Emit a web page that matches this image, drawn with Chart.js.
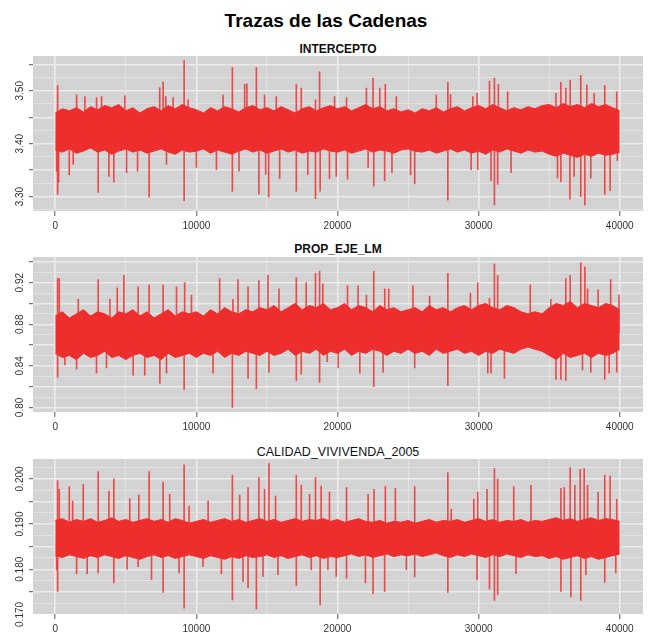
<!DOCTYPE html>
<html lang="es">
<head>
<meta charset="utf-8">
<title>Trazas de las Cadenas</title>
<script src="https://cdn.jsdelivr.net/npm/chart.js@4.4.1/dist/chart.umd.min.js"></script>
<style>
  body { margin: 0; background: #fff; font-family: "Liberation Sans", Arial, sans-serif; }
  #pagina { position: relative; width: 649px; height: 634px; overflow: hidden; }
  .titulo { position: absolute; left: 1px; width: 650px; text-align: center; color: #000;
            font-weight: bold; font-size: 19px; line-height: 19px; top: 11px; }
  .subtitulo { position: absolute; left: 33px; width: 610px; text-align: center; color: #111;
               font-size: 12px; line-height: 12px; font-weight: bold; }
  canvas { position: absolute; left: 0; }
</style>
</head>
<body>
<div id="pagina">
  <div class="titulo">Trazas de las Cadenas</div>
  <div class="subtitulo" style="top:43px">INTERCEPTO</div>
  <div class="subtitulo" style="top:243px">PROP_EJE_LM</div>
  <div class="subtitulo" style="top:446px;font-weight:normal;font-size:12.5px;line-height:12.5px">CALIDAD_VIVIVENDA_2005</div>
  <canvas id="traza1" width="649" height="181" style="top:52px"></canvas>
  <canvas id="traza2" width="649" height="181" style="top:253px"></canvas>
  <canvas id="traza3" width="649" height="181" style="top:455px"></canvas>
</div>
<script>
// Cada cadena tiene 40000 iteraciones; la envolvente se lee cada 500 iteraciones
const pasoEnvolvente = 500;
const etiquetasX = ['0', '10000', '20000', '30000', '40000'];

// --- INTERCEPTO ---
const interceptoAlto = [
  3.458, 3.466, 3.462, 3.468, 3.460, 3.470, 3.464, 3.472, 3.468, 3.474,
  3.462, 3.468, 3.458, 3.466, 3.470, 3.462, 3.472, 3.466, 3.474, 3.468,
  3.464, 3.458, 3.468, 3.462, 3.470, 3.466, 3.460, 3.468, 3.472, 3.464,
  3.468, 3.462, 3.470, 3.464, 3.458, 3.466, 3.470, 3.462, 3.468, 3.472,
  3.466, 3.470, 3.462, 3.468, 3.474, 3.466, 3.470, 3.462, 3.466, 3.460,
  3.464, 3.458, 3.466, 3.462, 3.468, 3.460, 3.466, 3.470, 3.462, 3.468,
  3.472, 3.466, 3.474, 3.468, 3.462, 3.468, 3.464, 3.470, 3.466, 3.472,
  3.474, 3.468, 3.476, 3.470, 3.474, 3.468, 3.476, 3.470, 3.474, 3.468,
  3.462
];
const interceptoBajo = [
  3.388, 3.384, 3.390, 3.382, 3.386, 3.392, 3.384, 3.388, 3.380, 3.386,
  3.390, 3.384, 3.388, 3.382, 3.386, 3.390, 3.384, 3.380, 3.388, 3.384,
  3.386, 3.390, 3.382, 3.388, 3.384, 3.380, 3.386, 3.390, 3.384, 3.388,
  3.382, 3.386, 3.390, 3.384, 3.388, 3.382, 3.386, 3.384, 3.390, 3.386,
  3.384, 3.388, 3.382, 3.386, 3.390, 3.384, 3.388, 3.386, 3.382, 3.388,
  3.390, 3.386, 3.384, 3.388, 3.382, 3.386, 3.390, 3.384, 3.388, 3.382,
  3.386, 3.380, 3.388, 3.384, 3.390, 3.386, 3.382, 3.388, 3.384, 3.386,
  3.380, 3.376, 3.382, 3.378, 3.374, 3.380, 3.376, 3.382, 3.378, 3.380,
  3.384
];
const interceptoPicosIter = [
  165, 1510, 2100, 2925, 3280, 4930, 7400, 7640, 7830, 8350, 9130, 9410, 11890, 12550, 13420, 13580, 14250, 14830, 15660, 17080, 17430, 18440, 18730, 19790,
  20640, 22050, 22520, 23000, 23390, 24170, 27000, 27820, 28010, 29590, 29890, 30770, 31120, 31400, 32060, 35480, 35830, 36180, 36490, 37240, 37670, 38190, 38940, 39790,
  95, 165, 235, 990, 1270, 3040, 3800, 4150, 5050, 5830, 6650, 7880, 9130, 10000, 11420, 12550, 13020, 14430, 14910, 15120, 15900, 17080, 17900, 18440, 18770, 19430, 19910,
  20710, 22170, 22570, 23340, 23860, 25180, 25470, 27820, 29470, 29940, 30880, 31120, 31350, 32300, 35590, 35830, 36470, 36770, 37240, 37530, 37950, 38940, 39320, 39830
];
const interceptoPicosValor = [
  3.510, 3.492, 3.489, 3.487, 3.489, 3.491, 3.506, 3.517, 3.489, 3.487, 3.557, 3.483, 3.492, 3.544, 3.512, 3.513, 3.544, 3.492, 3.489, 3.512, 3.505, 3.483, 3.536, 3.489,
  3.487, 3.505, 3.524, 3.505, 3.512, 3.489, 3.492, 3.516, 3.493, 3.489, 3.495, 3.518, 3.524, 3.512, 3.498, 3.495, 3.516, 3.505, 3.520, 3.529, 3.511, 3.495, 3.510, 3.498,
  3.348, 3.304, 3.327, 3.341, 3.361, 3.308, 3.338, 3.327, 3.345, 3.348, 3.299, 3.361, 3.292, 3.355, 3.351, 3.310, 3.348, 3.305, 3.342, 3.299, 3.334, 3.310, 3.342, 3.296, 3.310, 3.334, 3.338,
  3.333, 3.355, 3.320, 3.330, 3.345, 3.341, 3.324, 3.293, 3.351, 3.351, 3.330, 3.284, 3.323, 3.345, 3.335, 3.328, 3.295, 3.338, 3.300, 3.284, 3.335, 3.304, 3.311, 3.368
];
const interceptoEtiquetasY = ['3.30', '3.40', '3.50'];

// --- PROP_EJE_LM ---
const propAlto = [
  0.888, 0.892, 0.886, 0.890, 0.894, 0.888, 0.892, 0.890, 0.886, 0.892,
  0.890, 0.894, 0.888, 0.892, 0.886, 0.890, 0.894, 0.888, 0.892, 0.890,
  0.892, 0.888, 0.894, 0.890, 0.896, 0.892, 0.890, 0.894, 0.892, 0.896,
  0.894, 0.898, 0.892, 0.896, 0.900, 0.894, 0.898, 0.896, 0.900, 0.894,
  0.896, 0.900, 0.894, 0.898, 0.896, 0.892, 0.898, 0.894, 0.896, 0.892,
  0.894, 0.896, 0.892, 0.898, 0.894, 0.896, 0.892, 0.896, 0.898, 0.894,
  0.898, 0.900, 0.896, 0.894, 0.898, 0.896, 0.892, 0.890, 0.892, 0.890,
  0.896, 0.900, 0.898, 0.902, 0.896, 0.900, 0.898, 0.896, 0.900, 0.898,
  0.894
];
const propBajo = [
  0.852, 0.848, 0.850, 0.846, 0.852, 0.848, 0.850, 0.854, 0.848, 0.850,
  0.846, 0.850, 0.852, 0.848, 0.850, 0.846, 0.852, 0.848, 0.850, 0.852,
  0.848, 0.852, 0.850, 0.854, 0.848, 0.852, 0.850, 0.854, 0.852, 0.850,
  0.854, 0.850, 0.852, 0.856, 0.850, 0.854, 0.852, 0.856, 0.850, 0.854,
  0.852, 0.856, 0.850, 0.854, 0.852, 0.856, 0.854, 0.850, 0.854, 0.852,
  0.856, 0.852, 0.854, 0.850, 0.856, 0.852, 0.854, 0.856, 0.852, 0.854,
  0.850, 0.854, 0.852, 0.856, 0.854, 0.852, 0.856, 0.858, 0.856, 0.854,
  0.850, 0.846, 0.852, 0.848, 0.850, 0.852, 0.848, 0.852, 0.850, 0.852,
  0.856
];
const propPicosIter = [
  165, 280, 1630, 3040, 3870, 4390, 4860, 5870, 6650, 7640, 8590, 9170, 9650, 11650, 12590, 12950, 13660, 14430, 15070, 15850, 17080, 17780, 18440, 18730, 18960,
  20710, 21460, 22050, 22570, 23350, 23630, 25350, 26530, 27820, 29420, 29940, 30770, 31120, 31350, 33660, 35120, 36180, 36490, 37240, 37530, 37720, 38470, 39360, 39950,
  165, 680, 1510, 2920, 3630, 5520, 6340, 7410, 7880, 9130, 11180, 12550, 13660, 14250, 15140, 17080, 17430, 18730, 19270,
  20050, 21580, 22570, 23230, 25470, 27820, 30650, 30880, 31830, 35480, 35830, 36180, 37360, 37950, 38940, 39250, 39790
];
const propPicosValor = [
  0.924, 0.924, 0.904, 0.923, 0.904, 0.915, 0.927, 0.916, 0.918, 0.918, 0.916, 0.920, 0.908, 0.924, 0.904, 0.923, 0.916, 0.922, 0.927, 0.914, 0.925, 0.920, 0.929, 0.931, 0.919,
  0.917, 0.917, 0.908, 0.931, 0.914, 0.914, 0.917, 0.907, 0.929, 0.910, 0.920, 0.905, 0.938, 0.927, 0.918, 0.904, 0.924, 0.927, 0.939, 0.935, 0.914, 0.913, 0.923, 0.908,
  0.829, 0.841, 0.837, 0.833, 0.838, 0.831, 0.831, 0.823, 0.833, 0.817, 0.833, 0.800, 0.828, 0.818, 0.834, 0.826, 0.832, 0.824, 0.844,
  0.838, 0.833, 0.820, 0.834, 0.838, 0.821, 0.833, 0.833, 0.828, 0.827, 0.827, 0.826, 0.836, 0.834, 0.827, 0.833, 0.834
];
const propEtiquetasY = ['0.80', '0.84', '0.88', '0.92'];

// --- CALIDAD_VIVIVENDA_2005 ---
const calidadAlto = [
  0.1908, 0.1912, 0.1904, 0.1910, 0.1906, 0.1912, 0.1904, 0.1908, 0.1914, 0.1906,
  0.1910, 0.1904, 0.1908, 0.1912, 0.1906, 0.1910, 0.1904, 0.1912, 0.1908, 0.1902,
  0.1906, 0.1910, 0.1904, 0.1908, 0.1912, 0.1906, 0.1910, 0.1904, 0.1908, 0.1912,
  0.1906, 0.1910, 0.1904, 0.1908, 0.1912, 0.1906, 0.1910, 0.1908, 0.1912, 0.1906,
  0.1910, 0.1904, 0.1908, 0.1912, 0.1906, 0.1904, 0.1908, 0.1902, 0.1906, 0.1904,
  0.1908, 0.1902, 0.1906, 0.1910, 0.1904, 0.1908, 0.1906, 0.1910, 0.1904, 0.1908,
  0.1912, 0.1906, 0.1910, 0.1904, 0.1908, 0.1906, 0.1910, 0.1904, 0.1908, 0.1906,
  0.1910, 0.1914, 0.1908, 0.1912, 0.1906, 0.1910, 0.1914, 0.1908, 0.1912, 0.1910,
  0.1906
];
const calidadBajo = [
  0.1830, 0.1826, 0.1832, 0.1828, 0.1824, 0.1830, 0.1826, 0.1832, 0.1828, 0.1824,
  0.1830, 0.1826, 0.1822, 0.1828, 0.1832, 0.1826, 0.1830, 0.1824, 0.1828, 0.1832,
  0.1828, 0.1824, 0.1830, 0.1826, 0.1822, 0.1828, 0.1824, 0.1830, 0.1826, 0.1828,
  0.1832, 0.1826, 0.1830, 0.1824, 0.1828, 0.1832, 0.1826, 0.1830, 0.1824, 0.1828,
  0.1826, 0.1830, 0.1834, 0.1828, 0.1832, 0.1826, 0.1830, 0.1834, 0.1828, 0.1832,
  0.1830, 0.1834, 0.1828, 0.1832, 0.1836, 0.1830, 0.1826, 0.1832, 0.1828, 0.1834,
  0.1830, 0.1826, 0.1832, 0.1828, 0.1834, 0.1830, 0.1826, 0.1832, 0.1828, 0.1830,
  0.1824, 0.1828, 0.1822, 0.1826, 0.1830, 0.1824, 0.1828, 0.1822, 0.1826, 0.1830,
  0.1834
];
const calidadPicosIter = [
  165, 280, 990, 1230, 1980, 3040, 3800, 4150, 5280, 5920, 6650, 7640, 8110, 9130, 9480, 10830, 12550, 13070, 13660, 14430, 14830, 15140, 15610, 17080, 17430, 18020, 18440, 18840, 19430,
  20640, 22170, 22590, 23390, 24100, 25470, 27820, 28060, 29660, 29940, 30600, 31120, 31350, 32490, 33710, 35830, 36070, 36490, 36820, 37200, 37480, 37720, 38470, 38940, 39320, 39790,
  95, 165, 1510, 2260, 3040, 4150, 5090, 5870, 6820, 7640, 8770, 9130, 10470, 11770, 12550, 13300, 13660, 14250, 14720, 15780, 17080, 18140, 18770, 19320, 19910,
  20640, 21980, 22520, 23340, 24880, 25470, 27820, 29890, 30770, 31120, 31350, 32650, 35830, 36540, 37240, 37600, 38940, 39720
];
const calidadPicosValor = [
  0.1996, 0.1977, 0.1983, 0.1951, 0.1988, 0.2016, 0.1973, 0.2000, 0.1956, 0.1964, 0.2016, 0.1993, 0.1966, 0.2031, 0.1940, 0.1951, 0.2008, 0.1964, 0.1981, 0.2003, 0.1977, 0.2034, 0.1962, 0.2008, 0.1986, 0.1966, 0.2003, 0.1984, 0.1971,
  0.1981, 0.1966, 0.1977, 0.1983, 0.1979, 0.1983, 0.2014, 0.1933, 0.1955, 0.1971, 0.1977, 0.2023, 0.2000, 0.1983, 0.1986, 0.1979, 0.1981, 0.2025, 0.1986, 0.2021, 0.2023, 0.1986, 0.1971, 0.2008, 0.2006, 0.1955,
  0.1799, 0.1751, 0.1790, 0.1790, 0.1792, 0.1770, 0.1800, 0.1806, 0.1777, 0.1749, 0.1792, 0.1714, 0.1806, 0.1790, 0.1732, 0.1773, 0.1759, 0.1712, 0.1784, 0.1788, 0.1764, 0.1799, 0.1721, 0.1799, 0.1784,
  0.1780, 0.1770, 0.1746, 0.1751, 0.1799, 0.1783, 0.1749, 0.1777, 0.1756, 0.1731, 0.1744, 0.1790, 0.1751, 0.1739, 0.1731, 0.1788, 0.1771, 0.1792
];
const calidadEtiquetasY = ['0.170', '0.180', '0.190', '0.200'];

const ROJO = '#ee2d2d';
const ROJO_PICO = 'rgba(238, 45, 45, 0.82)';
const FONDO = '#d3d3d3';

Chart.defaults.font.family = '"Liberation Sans", Arial, sans-serif';

function esMultiplo(v, paso) {
    const r = v / paso;
    return Math.abs(r - Math.round(r)) < 1e-6;
}

// pinta el fondo gris del panel
const fondoPanel = {
    id: 'fondoPanel',
    beforeDraw(chart) {
        const a = chart.chartArea;
        chart.ctx.save();
        chart.ctx.fillStyle = FONDO;
        chart.ctx.fillRect(a.left, a.top, a.right - a.left, a.bottom - a.top);
        chart.ctx.restore();
    }
};

// etiquetas del eje y giradas 90 grados, como en R
const etiquetasGiradas = {
    id: 'etiquetasGiradas',
    afterDraw(chart, args, opts) {
        const ctx = chart.ctx;
        const y = chart.scales.y;
        ctx.save();
        ctx.fillStyle = '#333';
        ctx.font = '10px "Liberation Sans", Arial, sans-serif';
        ctx.textAlign = 'center';
        ctx.textBaseline = 'middle';
        opts.etiquetas.forEach(txt => {
            ctx.save();
            ctx.translate(opts.x, y.getPixelForValue(parseFloat(txt)));
            ctx.rotate(-Math.PI / 2);
            ctx.fillText(txt, 0, 0);
            ctx.restore();
        });
        ctx.restore();
    }
};

function crearPanel(id, alto, bajo, picosIter, picosValor, centro, yMin, yMax, pasoRejilla, pasoMarca, etiquetasY) {
    const envAlto = alto.map((v, i) => ({ x: i * pasoEnvolvente, y: v }));
    const envBajo = bajo.map((v, i) => ({ x: i * pasoEnvolvente, y: v }));
    const picos = picosIter.map((it, i) => ({ x: it, y: [centro, picosValor[i]] }));

    return new Chart(document.getElementById(id), {
        type: 'bar',
        data: {
            datasets: [
                {
                    type: 'line',
                    data: envAlto,
                    borderColor: ROJO,
                    backgroundColor: ROJO,
                    borderWidth: 1,
                    pointRadius: 0,
                    tension: 0,
                    fill: '+1'
                },
                {
                    type: 'line',
                    data: envBajo,
                    borderColor: ROJO,
                    borderWidth: 1,
                    pointRadius: 0,
                    tension: 0,
                    fill: false
                },
                {
                    type: 'bar',
                    data: picos,
                    backgroundColor: ROJO_PICO,
                    borderWidth: 0,
                    barThickness: 1
                }
            ]
        },
        options: {
            responsive: false,
            animation: false,
            devicePixelRatio: 1,
            layout: { padding: { left: 0, right: 6, top: 4, bottom: 0 } },
            plugins: {
                legend: { display: false },
                tooltip: { enabled: false },
                etiquetasGiradas: { etiquetas: etiquetasY, x: 20.5 }
            },
            scales: {
                x: {
                    type: 'linear',
                    min: -1580,
                    max: 41650,
                    offset: false,
                    border: { display: false },
                    afterBuildTicks: s => {
                        s.ticks = [];
                        for (let v = 0; v <= 40000; v += 5000) s.ticks.push({ value: v });
                    },
                    afterFit: s => { s.height = 22; },
                    grid: {
                        offset: false,
                        color: c => esMultiplo(c.tick.value, 10000) ? '#ececec' : '#e2e2e2',
                        lineWidth: c => esMultiplo(c.tick.value, 10000) ? 1.6 : 1,
                        tickColor: c => esMultiplo(c.tick.value, 10000) ? '#555' : 'rgba(0,0,0,0)',
                        tickWidth: 1,
                        tickLength: 5
                    },
                    ticks: {
                        autoSkip: false,
                        maxRotation: 0,
                        padding: 4,
                        color: '#333',
                        font: { size: 10 },
                        callback: v => etiquetasX.includes(String(v)) ? String(v) : ''
                    }
                },
                y: {
                    type: 'linear',
                    min: yMin,
                    max: yMax,
                    border: { display: false },
                    afterBuildTicks: s => {
                        s.ticks = [];
                        const n0 = Math.ceil(yMin / pasoRejilla - 1e-6);
                        const n1 = Math.floor(yMax / pasoRejilla + 1e-6);
                        for (let n = n0; n <= n1; n++) s.ticks.push({ value: +(n * pasoRejilla).toFixed(6) });
                    },
                    afterFit: s => { s.width = 33; },
                    grid: {
                        color: c => esMultiplo(c.tick.value, pasoMarca) ? '#ebebeb' : '#e2e2e2',
                        lineWidth: c => esMultiplo(c.tick.value, pasoMarca) ? 1.4 : 1,
                        tickColor: c => esMultiplo(c.tick.value, pasoMarca) ? '#555' : 'rgba(0,0,0,0)',
                        tickWidth: 1,
                        tickLength: 4
                    },
                    ticks: { display: false }
                }
            }
        },
        plugins: [fondoPanel, etiquetasGiradas]
    });
}

crearPanel('traza1', interceptoAlto, interceptoBajo, interceptoPicosIter, interceptoPicosValor,
    3.422, 3.2727, 3.5657, 0.025, 0.05, interceptoEtiquetasY);
crearPanel('traza2', propAlto, propBajo, propPicosIter, propPicosValor,
    0.872, 0.7956, 0.9447, 0.01, 0.02, propEtiquetasY);
crearPanel('traza3', calidadAlto, calidadBajo, calidadPicosIter, calidadPicosValor,
    0.1868, 0.1701, 0.2044, 0.0025, 0.005, calidadEtiquetasY);
</script>
</body>
</html>
